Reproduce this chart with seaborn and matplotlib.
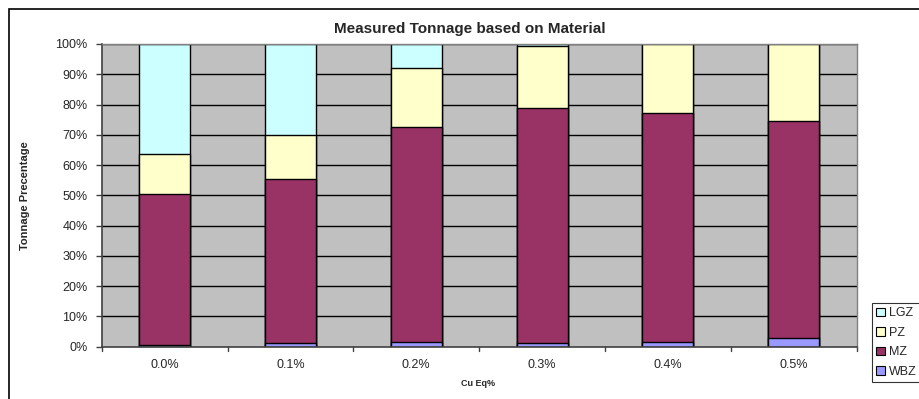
import matplotlib
matplotlib.use("Agg")
import matplotlib.pyplot as plt
import seaborn as sns
import pandas as pd
import numpy as np
from matplotlib.patches import Patch, Rectangle

categories = ["0.0%", "0.1%", "0.2%", "0.3%", "0.4%", "0.5%"]
series_names = ["WBZ", "MZ", "PZ", "LGZ"]
WBZ = [0.7, 1.1, 1.5, 1.3, 1.7, 2.9]
MZ = [49.8, 54.4, 71.2, 77.4, 75.6, 71.5]
PZ = [13.3, 14.5, 19.4, 20.8, 22.7, 25.6]
LGZ = [36.2, 30.0, 7.9, 0.5, 0.0, 0.0]
colors = {"WBZ": "#9999FF", "MZ": "#993366", "PZ": "#FFFFCC", "LGZ": "#CCFFFF"}

sns.set_theme(style="white")
plt.rcParams['font.family'] = ['Liberation Sans', 'DejaVu Sans']

fig = plt.figure(figsize=(9.2, 3.99), dpi=100)
ax = fig.add_axes([101.7/920, 1-346.7/399, 755/920, (346.7-44)/399])
ax.set_facecolor("#C0C0C0")

vals = {"WBZ": WBZ, "MZ": MZ, "PZ": PZ, "LGZ": LGZ}
cum = np.zeros(len(categories))
cums = {}
for s in series_names:
    cum = cum + np.array(vals[s])
    cums[s] = cum.copy()

ax.set_axisbelow(True)
for y in range(10, 101, 10):
    ax.axhline(y, color="black", lw=1.0, zorder=0.5)

for s in reversed(series_names):
    df = pd.DataFrame({"cat": categories, "val": cums[s]})
    sns.barplot(data=df, x="cat", y="val", color=colors[s], width=0.405,
                edgecolor="black", linewidth=1.0, saturation=1, ax=ax, zorder=2)

ax.set_ylim(0, 100)
ax.set_xlim(-0.5, 5.5)
ax.set_yticks(range(0, 101, 10))
ax.set_yticklabels([f"{v}%" for v in range(0, 101, 10)], fontsize=9)
ax.set_xticks(range(6))
ax.set_xticklabels(categories, fontsize=9)
ax.tick_params(axis="x", length=0, pad=9)
ax.tick_params(axis="y", length=4, width=1, color="#404040", pad=6, direction="out", left=True)
for xb in np.arange(-0.5, 6.0, 1.0):
    ax.plot([xb, xb], [0, -1.3], color="#404040", lw=1, clip_on=False)
ax.set_xlabel("")
ax.set_ylabel("")
for side in ["top", "right"]:
    ax.spines[side].set_color("#808080")
    ax.spines[side].set_linewidth(1)
for side in ["left", "bottom"]:
    ax.spines[side].set_color("#404040")
    ax.spines[side].set_linewidth(1.2)

fig.text(470/920, 1-29/399, "Measured Tonnage based on Material", ha="center", va="center",
         fontsize=11, fontweight="bold")
fig.text(25/920, 1-196/399, "Tonnage Precentage", rotation=90, ha="center", va="center",
         fontsize=8, fontweight="bold")
fig.text(478/920, 1-384/399, "Cu Eq%", ha="center", va="center", fontsize=6.5, fontweight="bold")

# outer chart border
fig.add_artist(Rectangle((9/920, -0.02), 1.0, 1-9/399+0.02, transform=fig.transFigure,
                         fill=False, edgecolor="black", lw=1.2))

handles = [Patch(facecolor=colors[s], edgecolor="black", lw=0.8, label=s) for s in reversed(series_names)]
leg = fig.legend(handles=handles, loc="upper left", bbox_to_anchor=(872/920, 1-303/399),
                 frameon=True, fontsize=9, handlelength=0.7, handleheight=0.7,
                 handletextpad=0.3, labelspacing=0.6, borderpad=0.35, borderaxespad=0,
                 fancybox=False)
leg.get_frame().set_edgecolor("black")
leg.get_frame().set_linewidth(0.8)

fig.savefig("out.png", dpi=100)
